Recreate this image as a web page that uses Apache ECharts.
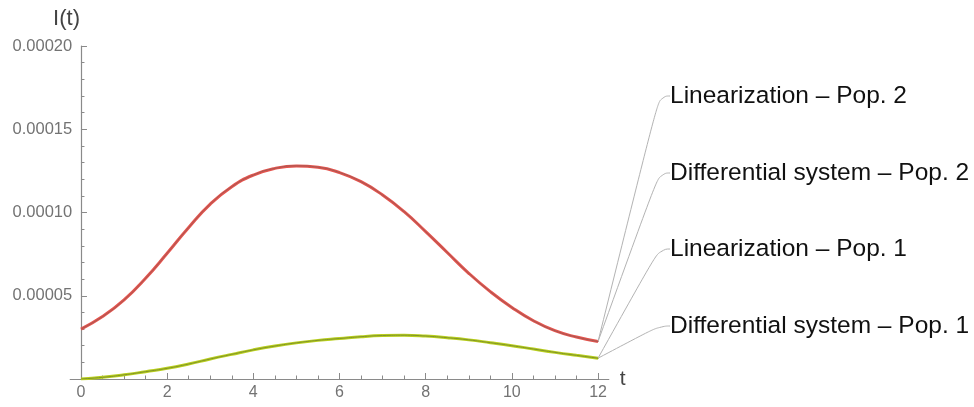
<!DOCTYPE html>
<html><head><meta charset="utf-8">
<script src="https://cdn.jsdelivr.net/npm/echarts@6/dist/echarts.min.js"></script>
<style>html,body{margin:0;padding:0;background:#fff}#c{width:974px;height:407px}</style>
</head><body><div id="c"></div>
<script>
// ---- data ----
const tValues = [0,0.5,1,1.5,2,2.5,3,3.5,4,4.5,5,5.5,6,6.5,7,7.5,8,8.5,9,9.5,10,10.5,11,11.5,12];
const pop2Differential = [3.0e-5,3.75e-5,4.75e-5,6.05e-5,7.55e-5,9.1e-5,10.5e-5,11.55e-5,12.25e-5,12.65e-5,12.8e-5,12.72e-5,12.4e-5,11.85e-5,11.05e-5,10.05e-5,8.85e-5,7.6e-5,6.35e-5,5.25e-5,4.3e-5,3.5e-5,2.9e-5,2.52e-5,2.25e-5];
const pop2Linearization = [3.0e-5,3.75e-5,4.75e-5,6.05e-5,7.55e-5,9.1e-5,10.5e-5,11.55e-5,12.25e-5,12.65e-5,12.8e-5,12.72e-5,12.4e-5,11.85e-5,11.05e-5,10.05e-5,8.85e-5,7.6e-5,6.35e-5,5.25e-5,4.3e-5,3.5e-5,2.9e-5,2.52e-5,2.25e-5];
const pop1Differential = [0,0.1e-5,0.25e-5,0.44e-5,0.64e-5,0.9e-5,1.2e-5,1.48e-5,1.75e-5,1.98e-5,2.17e-5,2.32e-5,2.43e-5,2.54e-5,2.61e-5,2.63e-5,2.58e-5,2.48e-5,2.35e-5,2.18e-5,2.0e-5,1.8e-5,1.6e-5,1.42e-5,1.25e-5];
const pop1Linearization = [0,0.1e-5,0.25e-5,0.44e-5,0.64e-5,0.9e-5,1.2e-5,1.48e-5,1.75e-5,1.98e-5,2.17e-5,2.32e-5,2.43e-5,2.54e-5,2.61e-5,2.63e-5,2.58e-5,2.48e-5,2.35e-5,2.18e-5,2.0e-5,1.8e-5,1.6e-5,1.42e-5,1.25e-5];
const seriesNames = ['Linearization \u2013 Pop. 2','Differential system \u2013 Pop. 2','Linearization \u2013 Pop. 1','Differential system \u2013 Pop. 1'];
const xMajorTicks = [0,2,4,6,8,10,12];
const xMinorTicks = [0.5,1,1.5,2.5,3,3.5,4.5,5,5.5,6.5,7,7.5,8.5,9,9.5,10.5,11,11.5];

// ---- chart ----
const FONT = '"Liberation Sans", Arial, Helvetica, sans-serif';
const labelYs = [96, 173, 249, 326];

function buildData(vals, idx, color) {
  return tValues.map((t, i) => {
    if (i === tValues.length - 1) {
      return {
        value: [t, vals[i]],
        symbol: 'circle', symbolSize: 1,
        itemStyle: { color: color, opacity: 1 },
        label: { show: true, formatter: seriesNames[idx] }
      };
    }
    return [t, vals[i]];
  });
}

function mkSeries(idx, vals, color, width, z) {
  return {
    name: seriesNames[idx],
    type: 'line',
    xAxisIndex: 0, yAxisIndex: 0,
    smooth: 0.5,
    symbol: 'none',
    showAllSymbol: true,
    z: z,
    data: buildData(vals, idx, color),
    lineStyle: { color: color, width: width },
    itemStyle: { color: color },
    label: {
      show: false,
      fontFamily: FONT, fontSize: 24.5, color: '#111'
    },
    labelLayout: function () {
      return { x: 670, y: labelYs[idx], align: 'left', verticalAlign: 'middle' };
    },
    labelLine: {
      show: true, length2: 11, smooth: 0.6, minTurnAngle: 0,
      lineStyle: { color: '#b3b3b3', width: 1 }
    },
    emphasis: { disabled: true },
    silent: true
  };
}

const chart = echarts.init(document.getElementById('c'), null, { renderer: 'canvas' });
chart.setOption({
  animation: false,
  backgroundColor: '#fff',
  grid: { left: 70.2, right: 365.2, top: 46, bottom: 28, containLabel: false },
  xAxis: [{
    type: 'value', min: -0.25, max: 12.25,
    name: 't', nameLocation: 'end', nameGap: 11,
    nameTextStyle: { fontFamily: FONT, fontSize: 21, color: '#444', verticalAlign: 'middle', align: 'left' },
    axisLine: { show: true, onZero: true, lineStyle: { color: '#8a8a8a', width: 1.2 } },
    axisTick: { show: true, inside: true, length: 6, customValues: xMajorTicks, lineStyle: { color: '#8a8a8a' } },
    axisLabel: { show: true, customValues: xMajorTicks, margin: 6, fontFamily: FONT, fontSize: 16, color: '#737373' },
    splitLine: { show: false }
  }, {
    type: 'value', min: -0.25, max: 12.25, position: 'bottom',
    axisLine: { show: false },
    axisTick: { show: true, inside: true, length: 3.5, customValues: xMinorTicks, lineStyle: { color: '#8a8a8a' } },
    axisLabel: { show: false },
    splitLine: { show: false }
  }],
  yAxis: {
    type: 'value', min: 0, max: 0.0002, interval: 0.00005,
    name: 'I(t)', nameLocation: 'end', nameGap: 16,
    nameTextStyle: { fontFamily: FONT, fontSize: 22, color: '#444', align: 'right', padding: [0, 1, 0, 0] },
    axisLine: { show: true, onZero: true, onZeroAxisIndex: 0, lineStyle: { color: '#8a8a8a', width: 1.2 } },
    axisTick: { show: true, inside: true, length: 6, lineStyle: { color: '#8a8a8a' } },
    minorTick: { show: true, splitNumber: 5, length: 3.5, lineStyle: { color: '#8a8a8a' } },
    axisLabel: {
      showMinLabel: false, margin: -2, fontFamily: FONT, fontSize: 16.5, color: '#737373',
      formatter: v => v.toFixed(5)
    },
    splitLine: { show: false }
  },
  series: [
    mkSeries(1, pop2Differential, '#e5534d', 3, 2),
    mkSeries(0, pop2Linearization, '#a35a54', 1, 3),
    mkSeries(3, pop1Differential, '#b9cf1e', 3, 2),
    mkSeries(2, pop1Linearization, '#7f922a', 1, 3)
  ]
});
</script>
</body></html>
